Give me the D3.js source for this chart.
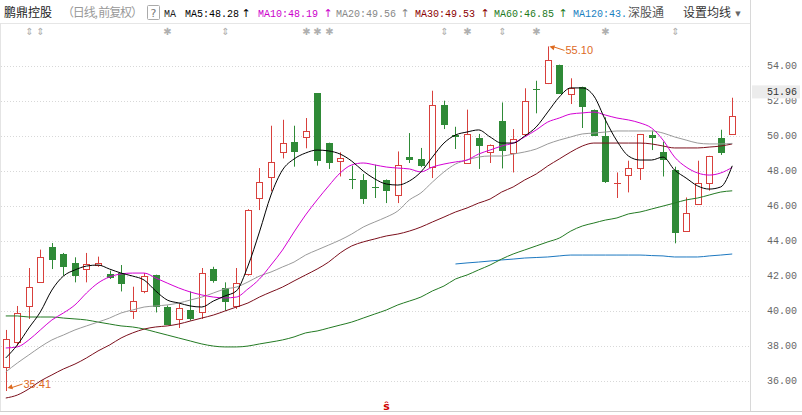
<!DOCTYPE html>
<html><head><meta charset="utf-8">
<script src="https://cdn.jsdelivr.net/npm/d3@7"></script>
<style>
html,body{margin:0;padding:0;background:#fff;}
svg{display:block;}
</style></head><body>
<svg id="c" width="802" height="415"></svg>
<script>
// ---- data ----
const opens  = [36.76,38.23,40.27,41.62,43.62,43.24,42.73,42.38,42.60,42.10,42.15,40.00,41.10,42.06,40.23,39.53,40.06,39.94,42.38,41.30,40.25,42.10,46.44,47.62,49.09,49.66,49.91,52.44,49.58,48.53,47.52,47.49,47.09,47.49,46.61,48.76,48.67,48.19,51.75,50.04,48.44,49.87,49.09,50.86,49.01,50.08,52.67,52.99,54.06,52.38,52.80,51.49,49.96,47.30,47.75,48.15,50.06,49.09,48.06,44.53,46.10,47.30,49.87,50.08];
const highs  = [38.90,40.27,42.44,43.49,43.87,43.30,43.05,43.30,43.09,42.29,42.61,41.37,42.15,42.06,40.30,40.38,41.10,42.44,42.51,41.62,42.44,45.80,48.15,50.57,50.91,50.57,51.01,52.44,49.60,49.05,48.29,47.81,48.34,47.50,49.10,50.15,49.30,52.57,52.00,50.51,51.49,50.10,49.50,51.90,50.38,52.71,53.14,55.10,54.06,53.28,52.80,51.50,51.05,47.90,48.57,50.10,50.29,49.66,48.23,46.47,48.57,48.85,50.34,52.17];
const lows   = [35.41,38.00,39.53,41.60,42.38,42.00,41.62,41.62,42.51,41.81,41.10,39.53,41.00,39.90,39.20,39.01,39.43,39.53,41.60,40.00,40.10,42.00,45.75,46.82,48.70,48.23,49.28,48.29,48.10,47.67,46.95,46.10,46.44,46.15,46.15,48.44,48.20,47.58,50.38,49.24,48.40,48.10,48.44,48.13,47.90,50.00,51.28,52.95,52.38,51.81,50.44,50.00,47.30,46.44,46.76,47.47,49.18,47.67,43.85,44.50,46.10,46.86,48.90,50.08];
const closes = [38.38,39.87,41.37,43.05,42.90,42.48,41.96,42.67,42.73,41.85,41.53,40.53,42.00,40.23,39.20,40.13,39.53,42.15,41.67,40.51,41.58,45.75,47.33,48.51,49.58,49.05,50.25,48.57,48.42,48.73,47.48,46.38,46.99,46.82,48.33,48.63,48.25,51.75,50.61,49.90,50.10,49.39,49.47,49.10,49.81,52.00,52.60,54.33,52.38,52.73,51.66,50.00,47.33,47.32,48.15,50.10,49.85,48.63,44.42,45.56,47.28,48.82,49.01,51.13];

const ma5   = [37.30,38.04,39.01,39.93,41.18,41.98,42.33,42.55,42.61,42.38,42.15,41.98,41.75,41.13,40.61,40.44,40.27,40.21,40.55,40.84,41.13,42.55,44.50,46.61,48.04,48.67,49.01,49.18,49.13,48.95,48.55,47.98,47.53,47.24,47.18,47.41,47.93,48.78,49.58,50.04,50.21,50.33,49.93,49.58,49.58,49.98,50.50,51.35,52.21,52.73,52.73,52.27,50.90,49.70,48.84,48.61,48.61,48.78,48.04,47.58,47.13,46.95,47.07,48.28];
const ma10  = [37.87,37.93,38.33,38.90,39.47,39.87,40.33,41.01,41.58,41.93,42.10,42.15,42.15,41.87,41.58,41.30,41.07,40.90,40.78,40.73,40.78,41.24,41.81,42.61,43.47,44.50,45.47,46.33,47.13,47.87,48.33,48.44,48.33,48.21,48.15,48.10,47.93,48.21,48.38,48.50,48.61,48.95,49.18,49.41,49.58,49.93,50.33,50.78,51.01,51.24,51.30,51.35,51.18,51.01,50.90,50.73,50.44,49.75,48.78,48.21,47.87,47.75,47.87,48.19];
const ma20  = [36.50,37.01,37.47,37.93,38.33,38.61,38.90,39.13,39.35,39.58,39.87,40.04,40.21,40.27,40.33,40.44,40.61,40.78,41.01,41.24,41.35,41.64,41.98,42.21,42.50,42.78,43.18,43.47,43.75,44.04,44.38,44.78,45.07,45.35,45.70,46.33,46.73,47.35,47.93,48.38,48.61,48.78,48.84,48.84,48.95,49.07,49.24,49.53,49.75,49.93,50.10,50.15,50.21,50.27,50.27,50.27,50.27,50.15,49.93,49.75,49.58,49.53,49.53,49.56];
const ma30  = [35.01,35.18,35.53,35.98,36.33,36.67,36.95,37.30,37.70,38.04,38.44,38.73,38.95,39.07,39.13,39.24,39.41,39.58,39.75,39.98,40.21,40.44,40.78,41.07,41.35,41.70,42.04,42.38,42.78,43.30,43.70,43.93,44.10,44.27,44.38,44.55,44.78,45.07,45.35,45.64,45.87,46.15,46.38,46.78,47.07,47.47,47.81,48.27,48.67,49.07,49.41,49.58,49.58,49.58,49.58,49.58,49.53,49.41,49.30,49.30,49.30,49.35,49.41,49.53];
const ma60  = [39.70,39.70,39.64,39.64,39.64,39.58,39.53,39.47,39.35,39.24,39.13,39.07,38.95,38.78,38.61,38.44,38.27,38.10,37.98,37.93,37.93,37.98,38.10,38.21,38.33,38.50,38.73,38.84,39.01,39.18,39.35,39.58,39.81,40.04,40.33,40.55,40.78,41.13,41.41,41.81,42.04,42.33,42.61,42.95,43.24,43.47,43.70,43.93,44.15,44.55,44.84,45.01,45.18,45.30,45.53,45.64,45.81,45.98,46.15,46.33,46.44,46.61,46.78,46.85];
const ma120 = [null,null,null,null,null,null,null,null,null,null,null,null,null,null,null,null,null,null,null,null,null,null,null,null,null,null,null,null,null,null,null,null,null,null,null,null,null,null,null,42.67,42.73,42.78,42.84,42.90,42.95,43.01,43.04,43.07,43.13,43.18,43.18,43.18,43.18,43.18,43.18,43.18,43.15,43.13,43.07,43.07,43.07,43.13,43.18,43.24];

const yTicks = [36,38,40,42,44,46,48,50,52,54];
const maNames  = ["MA5","MA10","MA20","MA30","MA60","MA120"];
const maLegend = ["48.28","48.19","49.56","49.53","46.85","43."];
const lastPrice = 51.96;
const eventIdx  = [2,3,14,19,26,27,28,38,40,43,46,52,58];
const eventType = ["⇕","⇕","✱","⇕","✱","✱","✱","⇕","✱","⇕","✱","✱","⇕"];
const hlIdx = {high:47, low:0};
const flagIdx = 33;

// ---- drawing ----
const svg = d3.select("#c");
const plotR = 750;
const x = d3.scaleBand().domain(d3.range(opens.length)).range([0, 738]);
const y = d3.scaleLinear().domain([36, 54]).range([380.7, 65.7]);
const cx = i => Math.round(x(i) + x.bandwidth()/2) + 0.5;

const RED = "#d8403c", GRN = "#2f8a37";
const maColors = ["#000000","#d400d4","#9a9a9a","#7b0f1c","#237a23","#1c78c0"];
const maText   = ["#000000","#cc00cc","#888888","#8b0000","#1d7a1d","#1a7fc1"];

// frame
svg.append("line").attr("x1",0).attr("x2",plotR).attr("y1",23.5).attr("y2",23.5).attr("stroke","#e6e6e6");
svg.append("line").attr("x1",plotR+0.5).attr("x2",plotR+0.5).attr("y1",0).attr("y2",412).attr("stroke","#d8d8d8");
svg.append("line").attr("x1",0.5).attr("x2",0.5).attr("y1",23).attr("y2",412).attr("stroke","#e4e4e4");
svg.append("line").attr("x1",0).attr("x2",802).attr("y1",411.5).attr("y2",411.5).attr("stroke","#cfcfcf");

// grid
svg.append("g").selectAll("line").data(yTicks).join("line")
  .attr("x1",1).attr("x2",plotR).attr("y1",d=>Math.round(y(d))+0.5).attr("y2",d=>Math.round(y(d))+0.5)
  .attr("stroke","#d8d8d8").attr("stroke-dasharray","1,2");

// axis
const ax = svg.append("g").attr("transform",`translate(${plotR},0)`)
  .call(d3.axisRight(y).tickValues(yTicks).tickFormat(d3.format(".2f")).tickSize(0).tickPadding(17));
ax.select(".domain").remove();
ax.selectAll("text").attr("fill","#666").style("font","10px 'Liberation Mono', monospace");

// candles
const cg = svg.append("g");
d3.range(opens.length).forEach(i=>{
  const o=opens[i], c=closes[i], h=highs[i], l=lows[i];
  const up = c >= o;
  const col = up ? RED : GRN;
  const xc = cx(i);
  const top = Math.round(y(Math.max(o,c))), bot = Math.round(y(Math.min(o,c)));
  const bw = 6;
  if (up) {
    cg.append("line").attr("x1",xc).attr("x2",xc).attr("y1",y(h)).attr("y2",top).attr("stroke",col);
    cg.append("line").attr("x1",xc).attr("x2",xc).attr("y1",bot).attr("y2",y(l)).attr("stroke",col);
    if (bot - top < 1) {
      cg.append("line").attr("x1",xc-bw/2-0.5).attr("x2",xc+bw/2+0.5).attr("y1",top+0.5).attr("y2",top+0.5).attr("stroke",col);
    } else {
      cg.append("rect").attr("x",xc-bw/2).attr("y",top+0.5).attr("width",bw).attr("height",bot-top)
        .attr("fill","#fff").attr("stroke",col);
    }
  } else {
    cg.append("line").attr("x1",xc).attr("x2",xc).attr("y1",y(h)).attr("y2",y(l)).attr("stroke",col);
    cg.append("rect").attr("x",xc-bw/2-0.5).attr("y",top).attr("width",bw+1).attr("height",Math.max(1,bot-top))
      .attr("fill",col);
  }
});

// MA lines
const maSeries = [ma5, ma10, ma20, ma30, ma60, ma120];
const line = d3.line().defined(d=>d[1]!=null).x(d=>x(d[0])+x.bandwidth()/2).y(d=>y(d[1])).curve(d3.curveMonotoneX);
[5,4,3,2,1,0].forEach(k=>{
  svg.append("path").datum(maSeries[k].map((v,i)=>[i,v]))
    .attr("d",line).attr("fill","none").attr("stroke",maColors[k]).attr("stroke-width",1);
});

// high/low annotations
const ORG = "#dd6a1f";
function annot(i, v, dy, label){
  const x0 = cx(i)+1, y0 = y(v)+dy;
  svg.append("line").attr("x1",x0+3).attr("y1",y0).attr("x2",x0+15).attr("y2",y0+(dy<0?-4:4)).attr("stroke",ORG);
  svg.append("path").attr("d",`M${x0},${y0} l5,-2.5 l0,5 z`).attr("fill",ORG)
    .attr("transform",`rotate(${dy<0?-15:15},${x0},${y0})`);
  svg.append("text").attr("x",x0+16).attr("y",y0+(dy<0?-4:4)+4).attr("fill",ORG)
    .style("font","11px 'Liberation Sans', sans-serif").text(label);
}
annot(hlIdx.high, highs[hlIdx.high], 0, d3.format(".2f")(highs[hlIdx.high]));
annot(hlIdx.low, lows[hlIdx.low], -3, d3.format(".2f")(lows[hlIdx.low]));

// last price tag
const ly = y(lastPrice) - 10;
svg.append("rect").attr("x",752).attr("y",ly-6).attr("width",48).attr("height",13).attr("fill","#ececec");
svg.append("text").attr("x",767).attr("y",ly+4).attr("fill","#333").style("font","10px 'Liberation Mono', monospace").text(d3.format(".2f")(lastPrice));

// event markers row
svg.append("g").selectAll("text").data(eventIdx).join("text")
  .attr("x",(d)=>cx(d)).attr("y",35).attr("text-anchor","middle").attr("fill","#b0b0b0")
  .style("font","10px 'DejaVu Sans', sans-serif").text((d,j)=>eventType[j]);

// bottom flag
svg.append("text").attr("x",cx(flagIdx)).attr("y",410).attr("text-anchor","middle").attr("fill","#d00000")
  .style("font","bold 11px 'DejaVu Sans', sans-serif").text("ŝ");

// header
const hdr = svg.append("g");
hdr.append("text").attr("x",4).attr("y",17).attr("fill","#222").style("font","12px 'Noto Sans CJK SC', sans-serif").text("鹏鼎控股");
hdr.append("text").attr("x",62).attr("y",17).attr("fill","#999").attr("textLength",81).style("font","12px 'Noto Sans CJK SC', sans-serif").text("（日线, 前复权）");
hdr.append("rect").attr("x",147.5).attr("y",5.5).attr("width",12).attr("height",14).attr("fill","none").attr("stroke","#aaa").attr("rx",1);
hdr.append("text").attr("x",153.5).attr("y",17).attr("text-anchor","middle").attr("fill","#777").style("font","11px 'DejaVu Sans', sans-serif").text("?");
hdr.append("text").attr("x",164).attr("y",17).attr("fill","#222").style("font","10px 'Liberation Mono', monospace").text("MA");
const legX = [185, 258, 336, 415, 494, 573];
const arrX = [246, 328, 405, 485, 563];
maNames.forEach((n,k)=>{
  hdr.append("text").attr("x",legX[k]).attr("y",17).attr("fill",maText[k])
    .style("font","10px 'Liberation Mono', monospace").text(n+":"+maLegend[k]);
  if (k < arrX.length) hdr.append("text").attr("x",arrX[k]).attr("y",17).attr("text-anchor","middle").attr("fill",maText[k])
    .style("font","11px 'DejaVu Sans', sans-serif").text("↑");
});
hdr.append("text").attr("x",628).attr("y",17).attr("fill","#555").style("font","12px 'Noto Sans CJK SC', sans-serif").text("深股通");
hdr.append("text").attr("x",683).attr("y",17).attr("fill","#333").style("font","12px 'Noto Sans CJK SC', sans-serif").text("设置均线");
hdr.append("text").attr("x",738).attr("y",16).attr("text-anchor","middle").attr("fill","#666").style("font","7px 'DejaVu Sans', sans-serif").text("▼");
</script>
</body></html>
